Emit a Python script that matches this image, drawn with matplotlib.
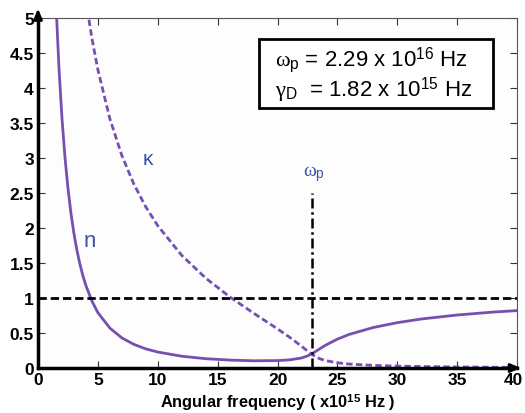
import matplotlib
matplotlib.use("Agg")
import matplotlib.pyplot as plt
import matplotlib.transforms as mtransforms
from matplotlib.patches import Rectangle

plt.rcParams['font.family'] = ['Liberation Sans', 'DejaVu Sans']
plt.rcParams['mathtext.fontset'] = 'custom'
plt.rcParams['mathtext.rm'] = 'Liberation Sans'
plt.rcParams['mathtext.it'] = 'Liberation Serif'
plt.rcParams['mathtext.bf'] = 'Liberation Sans:bold'

# angular frequency (x1e15 Hz) and values
omega_n = [1.5, 1.75, 2.0, 2.25, 2.5, 2.75, 3.0, 3.25, 3.5, 3.75, 4.0, 4.5, 5, 6, 7, 8, 9, 10,
           12, 14, 16, 18, 20, 21, 22, 22.5, 23, 23.5, 24, 25, 26, 28, 30, 32, 35, 38, 40]
n_vals = [5.21, 4.285, 3.57, 3.01, 2.57, 2.21, 1.92, 1.68, 1.483, 1.317, 1.177, 0.957, 0.79, 0.57,
          0.43, 0.338, 0.273, 0.228, 0.168, 0.133, 0.113, 0.103, 0.106, 0.116, 0.143, 0.172,
          0.217, 0.272, 0.325, 0.413, 0.481, 0.579, 0.648, 0.70, 0.757, 0.799, 0.820]

omega_k = [4.0, 4.5, 5, 6, 7, 8, 9, 10, 12, 14, 16, 18, 20, 21, 22, 22.5, 23, 23.5, 24, 25, 26,
           28, 30, 32, 35, 38, 40]
k_vals = [5.25, 4.71, 4.26, 3.56, 3.035, 2.628, 2.301, 2.032, 1.609, 1.284, 1.017, 0.783, 0.558,
          0.440, 0.311, 0.242, 0.180, 0.134, 0.106, 0.074, 0.056, 0.037, 0.027, 0.021, 0.015,
          0.011, 0.009]

omega_p = 22.9
xticks = [0, 5, 10, 15, 20, 25, 30, 35, 40]
yticks = [0, 0.5, 1, 1.5, 2, 2.5, 3, 3.5, 4, 4.5, 5]
ytick_labels = ['0', '0.5', '1', '1.5', '2', '2.5', '3', '3.5', '4', '4.5', '5']

purple = '#7650b0'
blue = '#3b55a6'

fig = plt.figure(figsize=(5.25, 4.14), dpi=100)
ax = fig.add_axes([0.0724, 0.1087, 0.9126, 0.8454])
ax.set_facecolor('#fdfdfd')

ax.plot(omega_n, n_vals, color=purple, lw=2.0, solid_capstyle='butt')
ax.plot(omega_k, k_vals, color=purple, lw=2.0, ls=(0, (2.3, 1.2)))
ax.axhline(1, color='black', lw=2.0, ls=(0, (3.0, 1.4)))
ax.plot([omega_p, omega_p], [0, 2.5], color='black', lw=1.8, ls=(0, (4, 1.5, 1, 1.5)))

ax.text(23.0, 2.64, r'$\omega_{\rm p}$', color=blue, fontsize=14, ha='center', va='bottom')
ax.text(9.2, 3.0, 'κ', color=blue, fontsize=15, ha='center', va='center')
ax.text(4.3, 1.82, 'n', color=blue, fontsize=16, ha='center', va='center')

ax.add_patch(Rectangle((0.461, 0.743), 0.489, 0.197, transform=ax.transAxes,
                       fc='white', ec='black', lw=2.0, zorder=4))
ax.text(0.695, 0.84,
        r'$\omega_{\rm p}$ = 2.29 x 10$^{16}$ Hz' + '\n' + r' $\gamma_{\rm D}$  = 1.82 x 10$^{15}$ Hz',
        transform=ax.transAxes, fontsize=16, ha='center', va='center', linespacing=1.0, zorder=5)

ax.set_xlim(0, 40)
ax.set_ylim(0, 5)
ax.set_xticks(xticks)
ax.set_xticklabels([str(v) for v in xticks])
ax.set_yticks(yticks)
ax.set_yticklabels(ytick_labels)
ax.tick_params(direction='in', top=True, right=True, length=5, width=0.8, color='#333333',
               labelsize=12.5, pad=3)
for lab in ax.get_xticklabels() + ax.get_yticklabels():
    lab.set_fontweight('bold')
last = ax.get_xticklabels()[-1]
last.set_transform(last.get_transform() + mtransforms.ScaledTranslation(-4 / 100, 0, fig.dpi_scale_trans))

for s in ['top', 'right']:
    ax.spines[s].set_color('#555555')
    ax.spines[s].set_linewidth(0.8)
for s in ['left', 'bottom']:
    ax.spines[s].set_linewidth(2.5)
    ax.spines[s].set_color('black')

ax.annotate('', xy=(0, 1.035), xytext=(0, 0.99), xycoords='axes fraction',
            arrowprops=dict(arrowstyle='-|>,head_width=0.25,head_length=0.6', color='black', lw=2))
ax.annotate('', xy=(1.014, 0), xytext=(0.99, 0), xycoords='axes fraction',
            arrowprops=dict(arrowstyle='-|>,head_width=0.25,head_length=0.6', color='black', lw=2))

ax.set_xlabel(r'Angular frequency ( x10$^{\mathbf{15}}$ Hz )', fontsize=11.8, fontweight='bold',
              labelpad=3)

fig.savefig('out.png', dpi=100)
